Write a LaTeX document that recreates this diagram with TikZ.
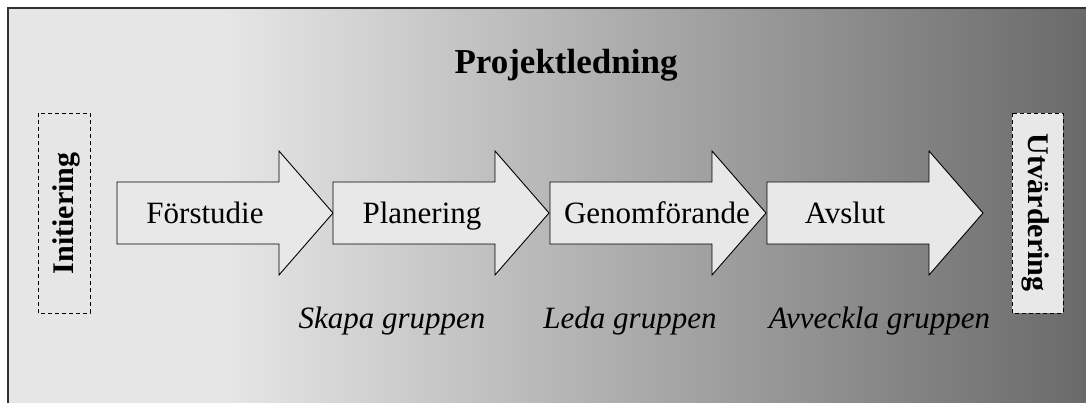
\documentclass[tikz,border=0pt]{standalone}
\usepackage{fontspec}
\setmainfont{Liberation Serif}
\begin{document}
\definecolor{bgLight}{RGB}{230,230,230}
\definecolor{bgDark}{RGB}{104,104,104}
\definecolor{boxFill}{RGB}{232,232,232}
\definecolor{frameLine}{RGB}{50,50,50}
\begin{tikzpicture}[x=1pt,y=-1pt,
  phase/.style={draw=black,line width=0.9pt,fill=boxFill,line join=miter},
  phasetext/.style={anchor=base,inner sep=0pt,font=\fontsize{31}{31}\selectfont},
  grouptext/.style={anchor=base,inner sep=0pt,font=\fontsize{31}{31}\selectfont\itshape},
  sidebox/.style={draw=black,line width=0.8pt,dash pattern=on 4pt off 3pt},
  sidetext/.style={inner sep=0pt,font=\fontsize{30}{30}\selectfont\bfseries}]
\useasboundingbox (0,0) rectangle (1086,403);
\clip (0,0) rectangle (1086,403);
\fill[white] (0,0) rectangle (1086,403);

% background panel: flat on the left, darkening towards the right
\fill[bgLight] (8,8) rectangle (225,420);
\shade[left color=bgLight,right color=bgDark] (224,8) rectangle (1100,420);
\draw[frameLine,line width=1.3pt] (1100,8) -- (8,8) -- (8,420);

% title
\node[anchor=base,inner sep=0pt,font=\fontsize{35}{35}\selectfont\bfseries] (title) at (566,74) {Projektledning};

% phase arrows
\foreach \x/\nm in {117/a1,333/a2,550/a3,767/a4}{
  \draw[phase] (\x,182) -- ++(162,0) -- ++(0,-31) -- ++(54,62) -- ++(-54,62)
     -- ++(0,-31) -- ++(-162,0) -- cycle;
  \coordinate (\nm) at (\x+108,213);
}
\node[phasetext] (forstudie) at (205,224) {Förstudie};
\node[phasetext] (planering) at (422,224) {Planering};
\node[phasetext] (genomf) at (657,224) {Genomförande};
\node[phasetext] (avslut) at (845,224) {Avslut};

% group development labels
\node[grouptext] (skapa) at (392,328) {Skapa gruppen};
\node[grouptext] (leda) at (630,328) {Leda gruppen};
\node[grouptext] (avveckla) at (879.5,328) {Avveckla gruppen};

% side boxes
\draw[sidebox,fill=bgLight] (38,113) rectangle (90,313);
\node[sidetext,rotate=90] (init) at (66,213.5) {Initiering};
\draw[sidebox,fill=boxFill] (1012,113) rectangle (1063,313);
\node[sidetext,rotate=-90] (utv) at (1036,212.5) {Utvärdering};
\end{tikzpicture}
\end{document}
